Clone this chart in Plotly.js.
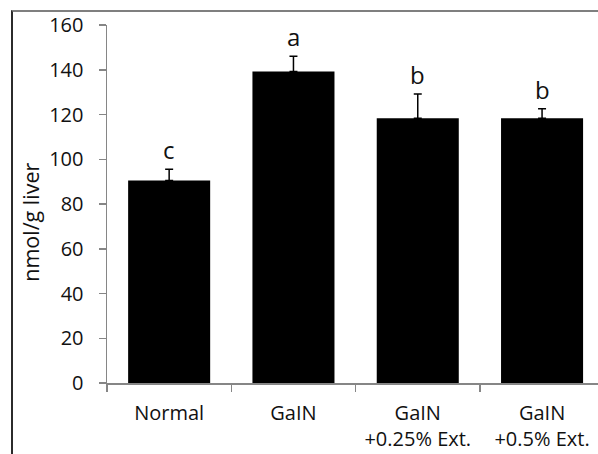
<!DOCTYPE html>
<html>
<head>
<meta charset="utf-8">
<script src="https://cdn.plot.ly/plotly-3.0.1.min.js"></script>
<style>
  html, body { margin: 0; padding: 0; background: #fff; overflow: hidden; }
  #wrap { position: relative; width: 598px; height: 454px; }
  #chart { position: absolute; left: 0; top: 0; width: 598px; height: 454px; }
  #frame { position: absolute; left: 11px; top: 10px; width: 600px; height: 460px;
           border-top: 2px solid #7f7f7f; border-left: 2px solid #2b2b2b; pointer-events: none; }
</style>
</head>
<body>
<div id="wrap">
  <div id="chart"></div>
  <div id="frame"></div>
</div>
<script>
// ---- data ----
const categories = ["Normal", "GaIN", "GaIN +0.25% Ext.", "GaIN +0.5% Ext."];
const tickLabels = ["Normal", "GaIN", "GaIN<br>+0.25% Ext.", "GaIN<br>+0.5% Ext."];
const values = [90.5, 139.2, 118.3, 118.3];
const errors = [5.0, 6.8, 10.9, 4.3];
const letters = ["c", "a", "b", "b"];
const yTicks = [0, 20, 40, 60, 80, 100, 120, 140, 160];
const yTitle = "nmol/g liver";

const FONT = "Open Sans, sans-serif";

const trace = {
  type: "bar",
  x: categories,
  y: values,
  marker: { color: "#000000", line: { width: 0 } },
  error_y: {
    type: "data",
    symmetric: false,
    array: errors,
    arrayminus: errors.map(() => 0),
    color: "#000000",
    thickness: 1.5,
    width: 4
  },
  hoverinfo: "skip"
};

const annotations = categories.map((c, i) => ({
  x: c,
  y: values[i] + errors[i],
  xref: "x",
  yref: "y",
  text: letters[i],
  showarrow: false,
  yanchor: "bottom",
  yshift: 1,
  font: { family: FONT, size: 24, color: "#111" }
}));

annotations.push({
  xref: "paper",
  yref: "paper",
  x: -0.155,
  y: 0.45,
  text: yTitle,
  textangle: -90,
  showarrow: false,
  xanchor: "center",
  yanchor: "middle",
  font: { family: FONT, size: 21.5, color: "#111" }
});

const layout = {
  width: 598,
  height: 454,
  margin: { l: 107, r: 0, t: 25, b: 71 },
  paper_bgcolor: "#ffffff",
  plot_bgcolor: "#ffffff",
  showlegend: false,
  bargap: 0.34,
  font: { family: FONT, size: 20, color: "#111" },
  xaxis: {
    type: "category",
    range: [-0.5, 3.45],
    tickvals: categories,
    ticktext: tickLabels,
    tickson: "boundaries",
    ticks: "outside",
    ticklen: 7,
    tickcolor: "#868686",
    tickwidth: 1.5,
    showline: true,
    linecolor: "#868686",
    linewidth: 1.5,
    showgrid: false,
    zeroline: false,
    ticklabelstandoff: 11,
    tickfont: { family: FONT, size: 20, color: "#111" }
  },
  yaxis: {
    range: [0, 160],
    tickvals: yTicks,
    ticktext: yTicks.map(String),
    ticks: "outside",
    ticklen: 7,
    tickcolor: "#868686",
    tickwidth: 1.5,
    showline: true,
    linecolor: "#868686",
    linewidth: 1.5,
    showgrid: false,
    zeroline: false,
    ticklabelstandoff: 11,
    tickfont: { family: FONT, size: 20, color: "#111" }
  },
  annotations: annotations
};

Plotly.newPlot("chart", [trace], layout, { staticPlot: true, displayModeBar: false });
</script>
</body>
</html>
